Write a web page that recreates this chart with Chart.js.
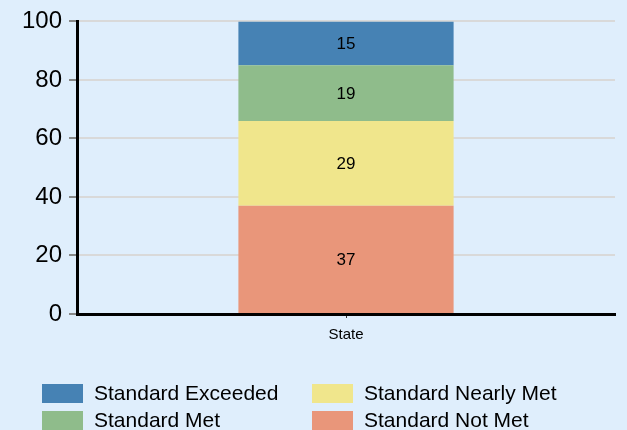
<!DOCTYPE html>
<html>
<head>
<meta charset="utf-8">
<script src="https://cdn.jsdelivr.net/npm/chart.js@4.4.0/dist/chart.umd.min.js"></script>
<style>
  html, body { margin: 0; padding: 0; background: #dfeefc; }
  #wrap { position: relative; width: 627px; height: 430px; overflow: hidden; }
  #legend { position: absolute; left: 0; top: 0; width: 627px; height: 430px; pointer-events: none;
            font-family: "Liberation Sans", Arial, sans-serif; font-size: 21px; color: #000; }
  .item { position: absolute; height: 19px; }
  .box { position: absolute; left: 0; top: 0; width: 41px; height: 19px; }
  .txt { position: absolute; left: 52px; top: -3px; white-space: nowrap; line-height: 24px; }
</style>
</head>
<body>
<div id="wrap">
  <canvas id="statchart" width="627" height="430"></canvas>
  <div id="legend"></div>
</div>
<script>
// data
var categories = ["State"];
var seriesNames = ["Standard Not Met", "Standard Nearly Met", "Standard Met", "Standard Exceeded"];
var notMet = [37];
var nearlyMet = [29];
var met = [19];
var exceeded = [15];
var seriesColors = ["#e9967a", "#f0e68c", "#8fbc8b", "#4682b4"];
var yMin = 0, yMax = 100, yStep = 20;

var FONT = "'Liberation Sans', Arial, sans-serif";

// draws the value in the middle of each bar segment
var valueLabels = {
  id: "valueLabels",
  afterDatasetsDraw: function (chart) {
    var ctx = chart.ctx;
    ctx.save();
    ctx.font = "17px " + FONT;
    ctx.fillStyle = "#000";
    ctx.textAlign = "center";
    ctx.textBaseline = "middle";
    chart.data.datasets.forEach(function (ds, i) {
      chart.getDatasetMeta(i).data.forEach(function (bar, j) {
        var mid = (bar.y + bar.base) / 2;
        ctx.fillText(ds.data[j], bar.x, mid + 1);
      });
    });
    ctx.restore();
  }
};

var allData = [notMet, nearlyMet, met, exceeded];
var datasets = [];
for (var i = 0; i < allData.length; i++) {
  datasets.push({
    label: seriesNames[i],
    data: allData[i],
    backgroundColor: seriesColors[i],
    borderWidth: 0,
    barPercentage: 0.4,
    categoryPercentage: 1
  });
}

var ctx = document.getElementById("statchart").getContext("2d");
var StatChart = new Chart(ctx, {
  type: "bar",
  data: { labels: categories, datasets: datasets },
  plugins: [valueLabels],
  options: {
    responsive: false,
    animation: false,
    layout: { padding: { top: 20, right: 12, bottom: 76, left: 0 } },
    plugins: { legend: { display: false }, tooltip: { enabled: false } },
    scales: {
      x: {
        stacked: true,
        offset: true,
        grid: { display: true, drawOnChartArea: false, offset: false, tickLength: 4, color: "#333", lineWidth: 1 },
        border: { display: true, color: "#000", width: 3 },
        ticks: { color: "#000", font: { family: FONT, size: 15 }, padding: 8 },
        afterFit: function (s) { s.height = 40; }
      },
      y: {
        stacked: true,
        min: yMin,
        max: yMax,
        grid: { color: "#d9d9d9", lineWidth: 2, tickLength: 8, tickColor: "#888" },
        border: { display: true, color: "#000", width: 3 },
        ticks: { stepSize: yStep, color: "#000", font: { family: FONT, size: 24 }, padding: 7 },
        afterFit: function (s) { s.width = 77; }
      }
    }
  }
});

// legend: reversed series, two columns filled top to bottom
var legendEl = document.getElementById("legend");
var order = datasets.slice().reverse();
var colX = [42, 312], rowY = [384, 411];
order.forEach(function (ds, k) {
  var col = Math.floor(k / 2), row = k % 2;
  var item = document.createElement("div");
  item.className = "item";
  item.style.left = colX[col] + "px";
  item.style.top = rowY[row] + "px";
  item.innerHTML = '<div class="box" style="background:' + ds.backgroundColor + '"></div>' +
                   '<div class="txt">' + ds.label + '</div>';
  legendEl.appendChild(item);
});
</script>
</body>
</html>
